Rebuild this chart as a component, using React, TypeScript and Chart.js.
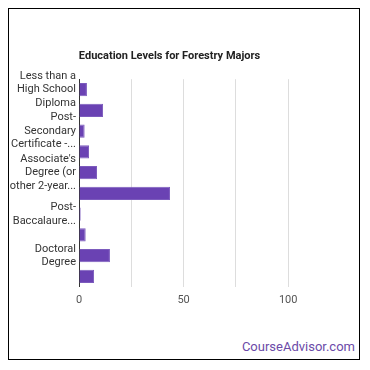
import React, { useEffect, useRef } from "react";
import { Chart, registerables } from "chart.js";

Chart.register(...registerables);

const TITLE = "Education Levels for Forestry Majors";
const categories = [
  "Less than a High School Diploma",
  "High School Diploma",
  "Post-Secondary Certificate - Awarded for training completed after high school",
  "Some College Courses",
  "Associate's Degree (or other 2-year degree)",
  "Bachelor's Degree",
  "Post-Baccalaureate Certificate",
  "Master's Degree",
  "Doctoral Degree",
  "Post-Doctoral Training",
];
const tickLabels: string[][] = [
  ["Less than a", "High School", "Diploma"],
  [],
  ["Post-", "Secondary", "Certificate -..."],
  [],
  ["Associate's", "Degree (or", "other 2-year..."],
  [],
  ["Post-", "Baccalaure..."],
  [],
  ["Doctoral", "Degree"],
  [],
];
const values = [3.8, 11.5, 2.7, 4.8, 8.6, 43.5, 0.8, 3.2, 14.8, 7.2];
const xTicks = [0, 25, 50, 75, 100];
const xLabeled = [0, 50, 100];

const FONT = "Roboto, 'Noto Sans', sans-serif";

export default function App() {
  const ref = useRef<HTMLCanvasElement | null>(null);
  useEffect(() => {
    if (!ref.current) return;
    const chart = new Chart(ref.current, {
      type: "bar",
      data: {
        labels: categories,
        datasets: [
          {
            data: values,
            backgroundColor: "#6a42b3",
            borderColor: "#7c5bbd",
            borderWidth: 1,
            categoryPercentage: 0.8,
            barPercentage: 0.8,
          },
        ],
      },
      options: {
        indexAxis: "y",
        animation: false,
        responsive: true,
        maintainAspectRatio: false,
        layout: { padding: { left: 0, right: 3, top: 0, bottom: 5 } },
        plugins: {
          legend: { display: false },
          tooltip: { enabled: false },
          title: {
            display: true,
            text: TITLE,
            color: "#222",
            font: { family: FONT, size: 11, weight: "bold" },
            padding: { top: 41, bottom: 16 },
          },
        },
        scales: {
          x: {
            min: 0,
            max: 120,
            afterBuildTicks: (axis: any) => {
              axis.ticks = xTicks.map((v) => ({ value: v }));
            },
            grid: { color: "#dddddd", drawTicks: false },
            border: { display: false },
            ticks: {
              autoSkip: false,
              padding: 7,
              color: "#555",
              font: { family: FONT, size: 11 },
              callback: (v: any) => (xLabeled.includes(Number(v)) ? String(v) : ""),
            },
          },
          y: {
            grid: { display: false, drawTicks: false },
            border: { display: true, color: "#333", width: 1 },
            afterFit: (scale: any) => {
              scale.width = 70;
            },
            ticks: {
              autoSkip: false,
              padding: 3,
              color: "#333",
              font: { family: FONT, size: 11, lineHeight: 1.22 },
              callback: (_v: any, i: number) => tickLabels[i],
            },
          },
        },
      },
    });
    return () => chart.destroy();
  }, []);

  return (
    <div
      style={{
        width: 350,
        height: 350,
        border: "1px solid #000",
        position: "relative",
        background: "#fff",
      }}
    >
      <div style={{ position: "absolute", left: 0, top: 0, width: 324, height: 310 }}>
        <canvas ref={ref} />
      </div>
      <div
        style={{
          position: "absolute",
          right: 4,
          top: 330,
          fontFamily: FONT,
          fontSize: 13,
          color: "#6b4aa8",
          lineHeight: "16px",
        }}
      >
        CourseAdvisor.com
      </div>
    </div>
  );
}
